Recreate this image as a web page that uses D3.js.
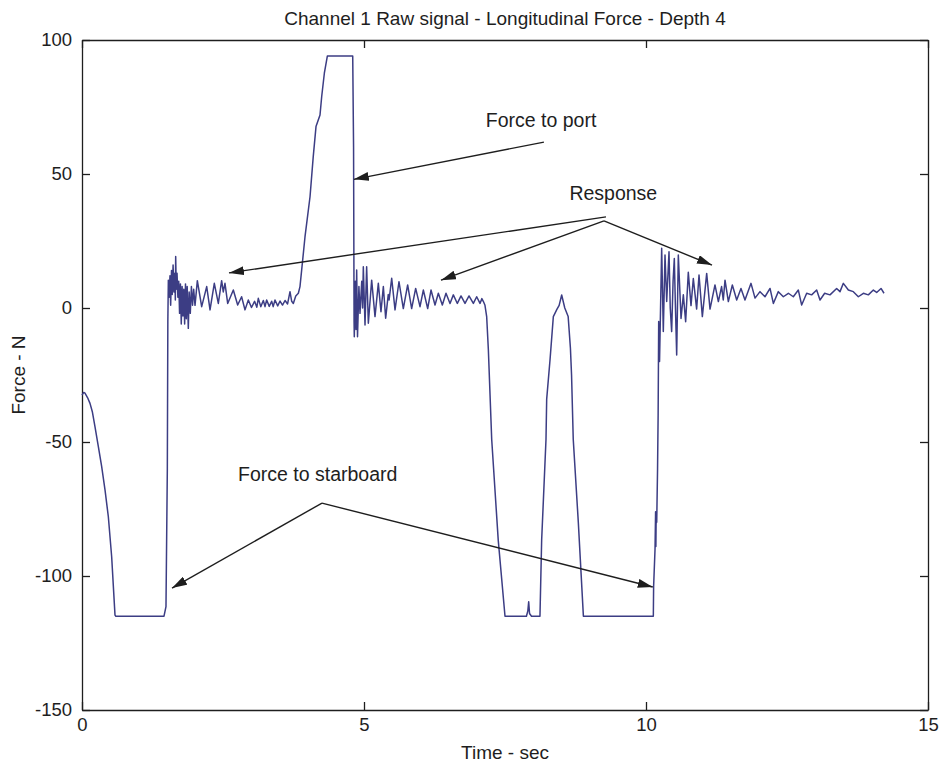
<!DOCTYPE html>
<html>
<head>
<meta charset="utf-8">
<script src="https://cdn.jsdelivr.net/npm/d3@7/dist/d3.min.js"></script>
<style>
body{margin:0;background:#fff}
text{font-family:"Liberation Sans",Arial,sans-serif;fill:#1e1e1e}
</style>
</head>
<body>
<div id="graphHolder"></div>
<script>
// raw signal, [time sec, force N]
const startDecay = [[0,-32.5],[0.03,-31.5],[0.053,-31.8],[0.1,-33.5],[0.142,-35.6],[0.183,-38.7],[0.23,-44.3],[0.29,-51.7],[0.349,-59.2],[0.408,-67.9],[0.467,-77.9],[0.526,-92.8],[0.585,-114.6]]
const starboard1 = [[0.6,-115],[1.454,-115],[1.489,-111.4],[1.513,-60],[1.522,-5]]
const response1 = [[1.531,10.4],[1.545,4],[1.56,12],[1.572,1],[1.587,14],[1.6,5],[1.615,16],[1.63,6],[1.645,13],[1.655,3],[1.661,19.2],[1.672,7],[1.685,13],[1.7,4],[1.715,10],[1.73,-2],[1.745,9],[1.76,-6],[1.775,8],[1.79,-3],[1.805,7],[1.82,-6],[1.835,9],[1.85,-4],[1.865,8],[1.885,-7.6],[1.9,6],[1.92,-2],[1.94,8],[1.96,1],[1.98,7],[2.004,1],[2.045,10.2],[2.122,0.5],[2.211,8],[2.27,-0.7],[2.346,9.2],[2.417,1.7],[2.476,10.2],[2.505,6],[2.535,9.2],[2.583,1.7],[2.683,6.7],[2.76,1.1],[2.83,4.2],[2.89,-0.7],[2.949,3],[3.005,0.2],[3.06,2.5],[3.1,0.3],[3.126,3.6],[3.17,0.5],[3.215,2.8],[3.245,0.5],[3.274,3],[3.32,0.6],[3.363,2.5],[3.39,0.5],[3.422,3],[3.47,0.8],[3.511,2.6],[3.555,1.1],[3.6,2.8],[3.645,1.5],[3.688,6.1],[3.718,2.5],[3.747,1.7],[3.79,4.5],[3.836,5.5]]
const portPulse = [[3.865,8],[3.895,14.2],[3.954,26.6],[4.043,41.5],[4.1,56.5],[4.149,67.7],[4.22,72],[4.25,78.9],[4.297,87.6],[4.35,94],[4.8,94],[4.815,60],[4.824,-5]]
const response2 = [[4.828,-10.7],[4.845,10],[4.858,-8],[4.87,14.2],[4.885,-10.7],[4.91,8],[4.929,-2],[4.96,10],[4.975,0],[4.988,15.4],[5.018,-6.3],[5.047,15.4],[5.077,-5.7],[5.136,10.4],[5.195,-3.2],[5.254,9.2],[5.301,-1.4],[5.343,8],[5.384,-3.8],[5.43,5],[5.445,3],[5.491,11.1],[5.55,-0.7],[5.62,9.8],[5.697,-0.2],[5.774,8.6],[5.845,-0.2],[5.916,7.3],[5.993,0.5],[6.052,6.7],[6.129,-0.2],[6.188,6.7],[6.259,1.1],[6.318,5.5],[6.389,1.1],[6.454,5.5],[6.525,1.7],[6.584,4.9],[6.655,1.7],[6.72,4.5],[6.791,1.7],[6.862,4.5],[6.939,1.7],[6.998,4.2],[7.057,1.7],[7.09,3.5],[7.117,2.4],[7.145,1],[7.175,-3.2],[7.205,-15.6]]
const starboard2 = [[7.264,-49],[7.38,-86.6],[7.5,-115],[7.88,-115],[7.905,-113],[7.92,-109.6],[7.935,-114],[7.97,-115],[8.12,-115],[8.15,-86.6],[8.227,-49],[8.239,-34],[8.298,-19.4],[8.357,-3.2],[8.42,-0.5],[8.46,1],[8.505,4.85],[8.56,0],[8.62,-3.2],[8.66,-15],[8.68,-25],[8.71,-49],[8.8,-80],[8.89,-115]]
const starboard3 = [[10.13,-115],[10.135,-104],[10.16,-90],[10.17,-76],[10.175,-89],[10.18,-78],[10.19,-80],[10.205,-60],[10.215,-40],[10.225,-5],[10.24,-20]]
const response3 = [[10.278,22.3],[10.307,-8.8],[10.337,19.8],[10.367,2.4],[10.408,21],[10.43,0],[10.455,-8.8],[10.48,10],[10.502,18.5],[10.52,2],[10.544,-17.5],[10.573,19.8],[10.621,-3.9],[10.662,4.9],[10.703,-5.1],[10.75,13.3],[10.798,0.9],[10.839,11],[10.898,-0.4],[10.94,12.3],[10.999,-3.2],[11.076,12.9],[11.135,-0.4],[11.223,8.6],[11.283,2.4],[11.34,8],[11.37,3],[11.401,10.4],[11.46,2.4],[11.531,8.6],[11.608,3],[11.684,7.3],[11.755,3],[11.862,9.2],[11.933,3.7],[12.021,6.1],[12.11,4.2],[12.199,7.3],[12.258,1.7],[12.346,6.1],[12.435,4.2],[12.524,5.5],[12.612,4.2],[12.701,6.7],[12.76,1.1],[12.849,5.5],[12.937,4.9],[13.026,6.7],[13.085,3],[13.168,5.5],[13.262,4.9],[13.38,7.3],[13.44,6.1],[13.499,9.2],[13.588,6.7],[13.676,6.1],[13.765,4.2],[13.854,5.5],[13.942,4.9],[14.031,6.7],[14.09,5.8],[14.167,7.3],[14.22,5.5]]

const xTicks = [0,5,10,15]
const yTicks = [-150,-100,-50,0,50,100]

// labels and arrows in data units: [t, f] of text centre, arrows from -> to
const notes = [
	{label:'Force to port', at:[8.14,70], arrows:[[[8.19,61.9],[4.82,48]]]},
	{label:'Response', at:[9.42,43], arrows:[[[9.29,34],[2.606,13.1]],[[9.255,32.5],[6.365,10.4]],[[9.255,32.5],[11.17,16]]]},
	{label:'Force to starboard', at:[4.18,-62], arrows:[[[4.255,-72.8],[1.596,-104.5]],[[4.255,-72.8],[10.12,-104.1]]]}
]

const signal = [].concat(startDecay,starboard1,response1,portPulse,response2,starboard2,starboard3,response3)

const width = 943,height = 764
const x = d3.scaleLinear().domain([0,15]).range([82,928])
const y = d3.scaleLinear().domain([-150,100]).range([710,40])
const plain = function(d){return String(d)} //keep the ascii hyphen like the print

const svg = d3.select('#graphHolder').append('svg')
	.attr('width',width)
	.attr('height',height)

svg.append('defs').append('marker')
	.attr('id','head')
	.attr('viewBox','0 0 15 9')
	.attr('refX',15).attr('refY',4.5)
	.attr('markerWidth',15).attr('markerHeight',9)
	.attr('markerUnits','userSpaceOnUse')
	.attr('orient','auto')
	.append('path').attr('d','M0,0L15,4.5L0,9z').attr('fill','#1e1e1e')

//axes, ticks point inward on all four sides
const axisColor = '#1e1e1e'
svg.append('g').attr('transform','translate(0,710)')
	.call(d3.axisBottom(x).tickValues(xTicks).tickFormat(plain).tickSizeInner(-8).tickSizeOuter(0).tickPadding(8))
svg.append('g').attr('transform','translate(0,40)')
	.call(d3.axisTop(x).tickValues(xTicks).tickSizeInner(-8).tickSizeOuter(0).tickFormat(''))
svg.append('g').attr('transform','translate(82,0)')
	.call(d3.axisLeft(y).tickValues(yTicks).tickFormat(plain).tickSizeInner(-8).tickSizeOuter(0).tickPadding(10))
svg.append('g').attr('transform','translate(928,0)')
	.call(d3.axisRight(y).tickValues(yTicks).tickSizeInner(-8).tickSizeOuter(0).tickFormat(''))
svg.selectAll('.domain,.tick line').attr('stroke',axisColor).attr('stroke-width',1.3)
svg.selectAll('.tick text').attr('font-size',18.5).attr('font-family','"Liberation Sans",Arial,sans-serif').attr('fill',axisColor)

svg.append('path')
	.datum(signal)
	.attr('fill','none')
	.attr('stroke','#3c3d84')
	.attr('stroke-width',1.5)
	.attr('stroke-linejoin','round')
	.attr('d',d3.line().x(function(d){return x(d[0])}).y(function(d){return y(d[1])}))

//annotations
notes.forEach(function(n){
	n.arrows.forEach(function(a){
		svg.append('line')
			.attr('x1',x(a[0][0])).attr('y1',y(a[0][1]))
			.attr('x2',x(a[1][0])).attr('y2',y(a[1][1]))
			.attr('stroke','#1e1e1e').attr('stroke-width',1.4)
			.attr('marker-end','url(#head)')
	})
	svg.append('text')
		.attr('x',x(n.at[0])).attr('y',y(n.at[1]))
		.attr('text-anchor','middle').attr('dy','0.35em')
		.attr('font-size',19.5)
		.text(n.label)
})

svg.append('text').attr('x',505).attr('y',25).attr('text-anchor','middle')
	.attr('font-size',19).text('Channel 1 Raw signal - Longitudinal Force - Depth 4')
svg.append('text').attr('x',505).attr('y',759).attr('text-anchor','middle')
	.attr('font-size',19).text('Time - sec')
svg.append('text').attr('transform','translate(25,375) rotate(-90)').attr('text-anchor','middle')
	.attr('font-size',19).text('Force - N')
</script>
</body>
</html>
